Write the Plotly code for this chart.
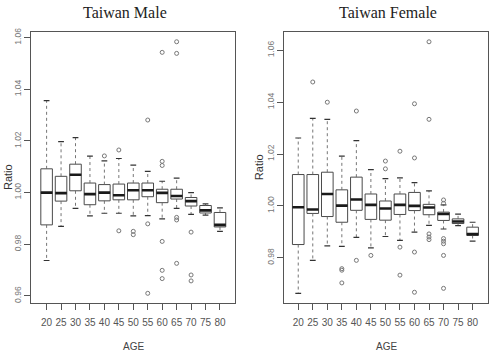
import plotly.graph_objects as go

ages = [20, 25, 30, 35, 40, 45, 50, 55, 60, 65, 70, 75, 80]

# Taiwan Male
male_lower = [0.9737, 0.9869, 0.9939, 0.9910, 0.9920, 0.9920, 0.9910, 0.9911, 0.9898, 0.9939, 0.9916, 0.9913, 0.9850]
male_q1 = [0.9875, 0.9967, 1.0007, 0.9953, 0.9968, 0.9972, 0.9972, 0.9984, 0.9961, 0.9975, 0.9948, 0.9921, 0.9867]
male_med = [1.0000, 0.9998, 1.0069, 0.9994, 1.0000, 0.9990, 1.0009, 1.0009, 0.9999, 0.9987, 0.9967, 0.9931, 0.9875]
male_q3 = [1.0092, 1.0063, 1.0110, 1.0037, 1.0031, 1.0033, 1.0037, 1.0037, 1.0013, 1.0013, 0.9981, 0.9950, 0.9923]
male_upper = [1.0356, 1.0197, 1.0213, 1.0141, 1.0123, 1.0132, 1.0106, 1.0082, 1.0044, 1.0056, 1.0000, 0.9956, 0.9941]
male_out_age = [40, 45, 45, 50, 50, 55, 55, 55, 60, 60, 60, 60, 60, 60, 65, 65, 65, 65, 65, 70, 70, 70]
male_out_val = [1.0142, 1.0165, 0.9852, 0.9850, 0.9837, 1.0281, 0.9879, 0.9610,
                1.0543, 1.0121, 1.0105, 0.9811, 0.9699, 0.9667,
                1.0584, 1.0539, 0.9904, 0.9894, 0.9726, 0.9847, 0.9681, 0.9658]

# Taiwan Female
fem_lower = [0.9663, 0.9790, 0.9846, 0.9844, 0.9879, 0.9838, 0.9882, 0.9867, 0.9899, 0.9925, 0.9911, 0.9924, 0.9864]
fem_q1 = [0.9851, 0.9971, 0.9959, 0.9937, 0.9983, 0.9948, 0.9945, 0.9967, 0.9982, 0.9966, 0.9944, 0.9932, 0.9886]
fem_med = [0.9995, 0.9986, 1.0046, 1.0001, 1.0025, 1.0004, 0.9990, 1.0004, 1.0000, 0.9994, 0.9969, 0.9940, 0.9891]
fem_q3 = [1.0121, 1.0121, 1.0130, 1.0062, 1.0111, 1.0046, 1.0019, 1.0046, 1.0052, 1.0006, 0.9976, 0.9950, 0.9918]
fem_upper = [1.0262, 1.0338, 1.0334, 1.0192, 1.0252, 1.0140, 1.0105, 1.0108, 1.0090, 1.0058, 1.0004, 0.9968, 0.9937]
fem_out_age = [25, 30, 35, 35, 35, 40, 40, 45, 50, 50, 55, 55, 55, 60, 60, 60, 60,
               65, 65, 65, 65, 65, 70, 70, 70, 70, 70, 70, 70]
fem_out_val = [1.0478, 1.0400, 0.9758, 0.9752, 0.9703, 1.0366, 0.9790, 0.9809,
               1.0173, 1.0143, 1.0211, 0.9841, 0.9733, 1.0394, 1.0185, 0.9822, 0.9667,
               1.0633, 1.0334, 0.9892, 0.9880, 0.9870,
               1.0023, 1.0010, 0.9874, 0.9864, 0.9854, 0.9809, 0.9682]

BOXW = 4.0
CAPW = 2.0
LINE = "#4a4a4a"
XTICKFONT = dict(family="Liberation Sans Narrow, Liberation Sans, Arial", size=10, color="#555555")
YTICKFONT = dict(family="Liberation Sans, Arial", size=8.5, color="#777777")

fig = go.Figure()


def add_panel(xa, ya, lower, q1, med, q3, upper, oa, ov):
    # dashed whiskers
    wx, wy = [], []
    for a, lo, b1, b3, up in zip(ages, lower, q1, q3, upper):
        wx += [a, a, None, a, a, None]
        wy += [b3, up, None, b1, lo, None]
    fig.add_trace(go.Scatter(x=wx, y=wy, mode="lines", xaxis=xa, yaxis=ya,
                             line=dict(color="#666666", width=0.9, dash="3px,3px"),
                             hoverinfo="skip", showlegend=False))
    # staples
    cx, cy = [], []
    for a, lo, up in zip(ages, lower, upper):
        cx += [a - CAPW / 2, a + CAPW / 2, None, a - CAPW / 2, a + CAPW / 2, None]
        cy += [up, up, None, lo, lo, None]
    fig.add_trace(go.Scatter(x=cx, y=cy, mode="lines", xaxis=xa, yaxis=ya,
                             line=dict(color="#333333", width=1.2),
                             hoverinfo="skip", showlegend=False))
    # boxes
    fig.add_trace(go.Box(x=ages, q1=q1, median=med, q3=q3, lowerfence=q1, upperfence=q3,
                         width=BOXW, whiskerwidth=0, fillcolor="white",
                         line=dict(color=LINE, width=1), boxpoints=False,
                         xaxis=xa, yaxis=ya, showlegend=False))
    # thick medians
    mx, my = [], []
    for a, m in zip(ages, med):
        mx += [a - BOXW / 2, a + BOXW / 2, None]
        my += [m, m, None]
    fig.add_trace(go.Scatter(x=mx, y=my, mode="lines", xaxis=xa, yaxis=ya,
                             line=dict(color="#1a1a1a", width=2.6),
                             hoverinfo="skip", showlegend=False))
    # outliers
    fig.add_trace(go.Scatter(x=oa, y=ov, mode="markers", xaxis=xa, yaxis=ya,
                             marker=dict(symbol="circle-open", size=4, color="#777777",
                                         line=dict(width=1)),
                             hoverinfo="skip", showlegend=False))


add_panel("x", "y", male_lower, male_q1, male_med, male_q3, male_upper, male_out_age, male_out_val)
add_panel("x2", "y2", fem_lower, fem_q1, fem_med, fem_q3, fem_upper, fem_out_age, fem_out_val)

H = 357.0
W = 490.0
ydom = [1 - 302 / H, 1 - 28 / H]

common_x = dict(tickvals=ages, ticktext=[str(a) for a in ages], ticks="outside", ticklen=6,
                tickcolor="#555555", showline=True, mirror=True, linecolor="#555555",
                linewidth=1, showgrid=False, zeroline=False, tickfont=XTICKFONT,
                ticklabelstandoff=4)
common_y = dict(tickvals=[0.96, 0.98, 1.00, 1.02, 1.04, 1.06], tickformat=".2f",
                ticks="outside", ticklen=6, tickcolor="#555555", showline=True, mirror=True,
                linecolor="#555555", linewidth=1, showgrid=False, zeroline=False,
                tickangle=-90, tickfont=YTICKFONT)

fig.update_layout(
    width=490, height=357,
    margin=dict(l=0, r=0, t=0, b=0),
    paper_bgcolor="white", plot_bgcolor="white",
    xaxis=dict(domain=[31 / W, 235 / W], range=[14.6, 85.2], anchor="y", **common_x),
    yaxis=dict(domain=ydom, range=[0.9574, 1.0623], anchor="x", **common_y),
    xaxis2=dict(domain=[284 / W, 488 / W], range=[15.1, 85.3], anchor="y2", **common_x),
    yaxis2=dict(domain=ydom, range=[0.9627, 1.0672], anchor="x2", **common_y),
)

title_font = dict(family="Liberation Serif, Times New Roman, serif", size=16, color="#222222")
label_font = dict(family="Liberation Sans Narrow, Liberation Sans, Arial", size=10, color="#444444")
annos = [
    dict(text="Taiwan Male", x=125 / W, y=1 - 9 / H, font=title_font),
    dict(text="Taiwan Female", x=388 / W, y=1 - 9 / H, font=title_font),
    dict(text="AGE", x=133 / W, y=1 - 346 / H, font=label_font),
    dict(text="AGE", x=386 / W, y=1 - 346 / H, font=label_font),
    dict(text="Ratio", x=8 / W, y=1 - 175 / H, textangle=-90,
         font=dict(family="Liberation Sans, Arial", size=11, color="#333333")),
    dict(text="Ratio", x=259 / W, y=1 - 165 / H, textangle=-90,
         font=dict(family="Liberation Sans, Arial", size=11, color="#333333")),
]
for a in annos:
    fig.add_annotation(xref="paper", yref="paper", showarrow=False,
                       xanchor="center", yanchor="middle", **a)

fig.write_html("out.html")
